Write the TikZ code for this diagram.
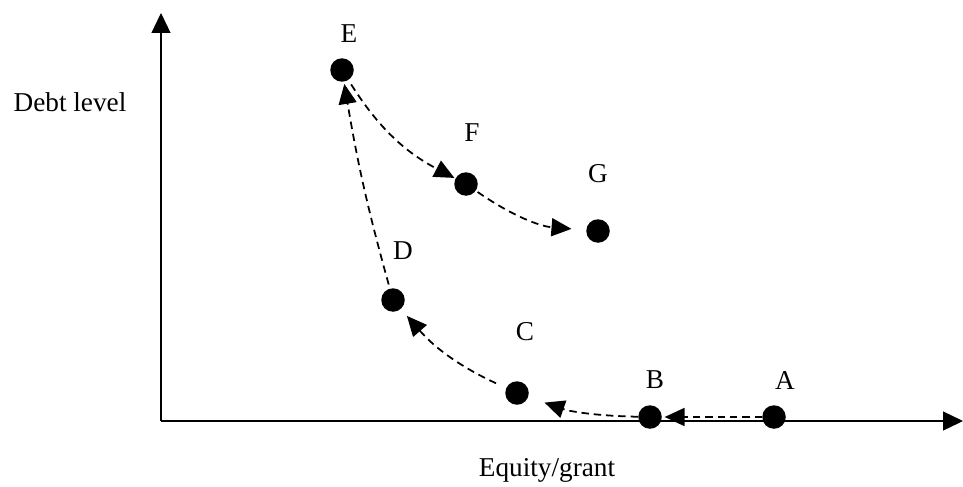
\documentclass[tikz,border=0pt]{standalone}
\usepackage{fontspec}
\setmainfont{Liberation Serif}
\usetikzlibrary{arrows.meta,positioning}
\tikzset{
  dot/.style={circle, fill=black, inner sep=0pt, minimum size=0.47cm},
  ptlabel/.style={font=\fontsize{15.5}{18}\selectfont, inner sep=0pt},
  axislabel/.style={font=\fontsize{15.5}{18}\selectfont, inner sep=0pt},
  axis/.style={line width=0.7pt, -{Triangle[length=0.4cm, width=0.38cm]}},
  move/.style={dashed, line width=1pt, dash pattern=on 4.2pt off 2.8pt,
               -{Triangle[length=0.4cm, width=0.36cm]}},
}

\begin{document}
\begin{tikzpicture}
\useasboundingbox (0,0) rectangle (19.26,9.72);
% axes
\coordinate (O) at (3.22,1.30);
\coordinate (ytop) at (3.22,9.46);
\coordinate (xend) at (19.26,1.30);
\draw[axis] (O) -- (ytop);
\draw[axis] (O) -- (xend);
\node[axislabel] (ylab) at (1.40,7.68) {Debt level};
\node[axislabel] (xlab) at (10.94,0.32) {Equity/grant};
% points
\node[dot, label={[ptlabel, label distance=0.31cm, xshift=0.14cm]above:E}] (E) at (6.84,8.32) {};
\node[dot, label={[ptlabel, label distance=0.61cm, xshift=0.12cm]above:F}] (F) at (9.32,6.04) {};
\node[dot, label={[ptlabel, label distance=0.71cm]above:G}] (G) at (11.96,5.10) {};
\node[dot, label={[ptlabel, label distance=0.55cm, xshift=0.2cm]above:D}] (D) at (7.86,3.72) {};
\node[dot, label={[ptlabel, label distance=0.79cm, xshift=0.16cm]above:C}] (C) at (10.34,1.86) {};
\node[dot, label={[ptlabel, label distance=0.31cm, xshift=0.1cm]above:B}] (B) at (13.00,1.38) {};
\node[dot, label={[ptlabel, label distance=0.31cm, xshift=0.22cm]above:A}] (A) at (15.48,1.38) {};
% path of the firm
\draw[move, shorten >=0.05cm] (A) -- (B);
\draw[move, shorten >=0.34cm] (B) to[bend left=9] (C);
\draw[move, shorten <=0.22cm, shorten >=0.18cm] (C) to[bend left=12] (D);
\draw[move, shorten <=0.08cm, shorten >=0.04cm] (D) to[bend left=3] (E);
\draw[move, shorten <=0.1cm, shorten >=0.02cm] (E) to[bend right=15] (F);
\draw[move, shorten <=0.04cm, shorten >=0.29cm] (F) to[bend right=15] (G);
\end{tikzpicture}
\end{document}
